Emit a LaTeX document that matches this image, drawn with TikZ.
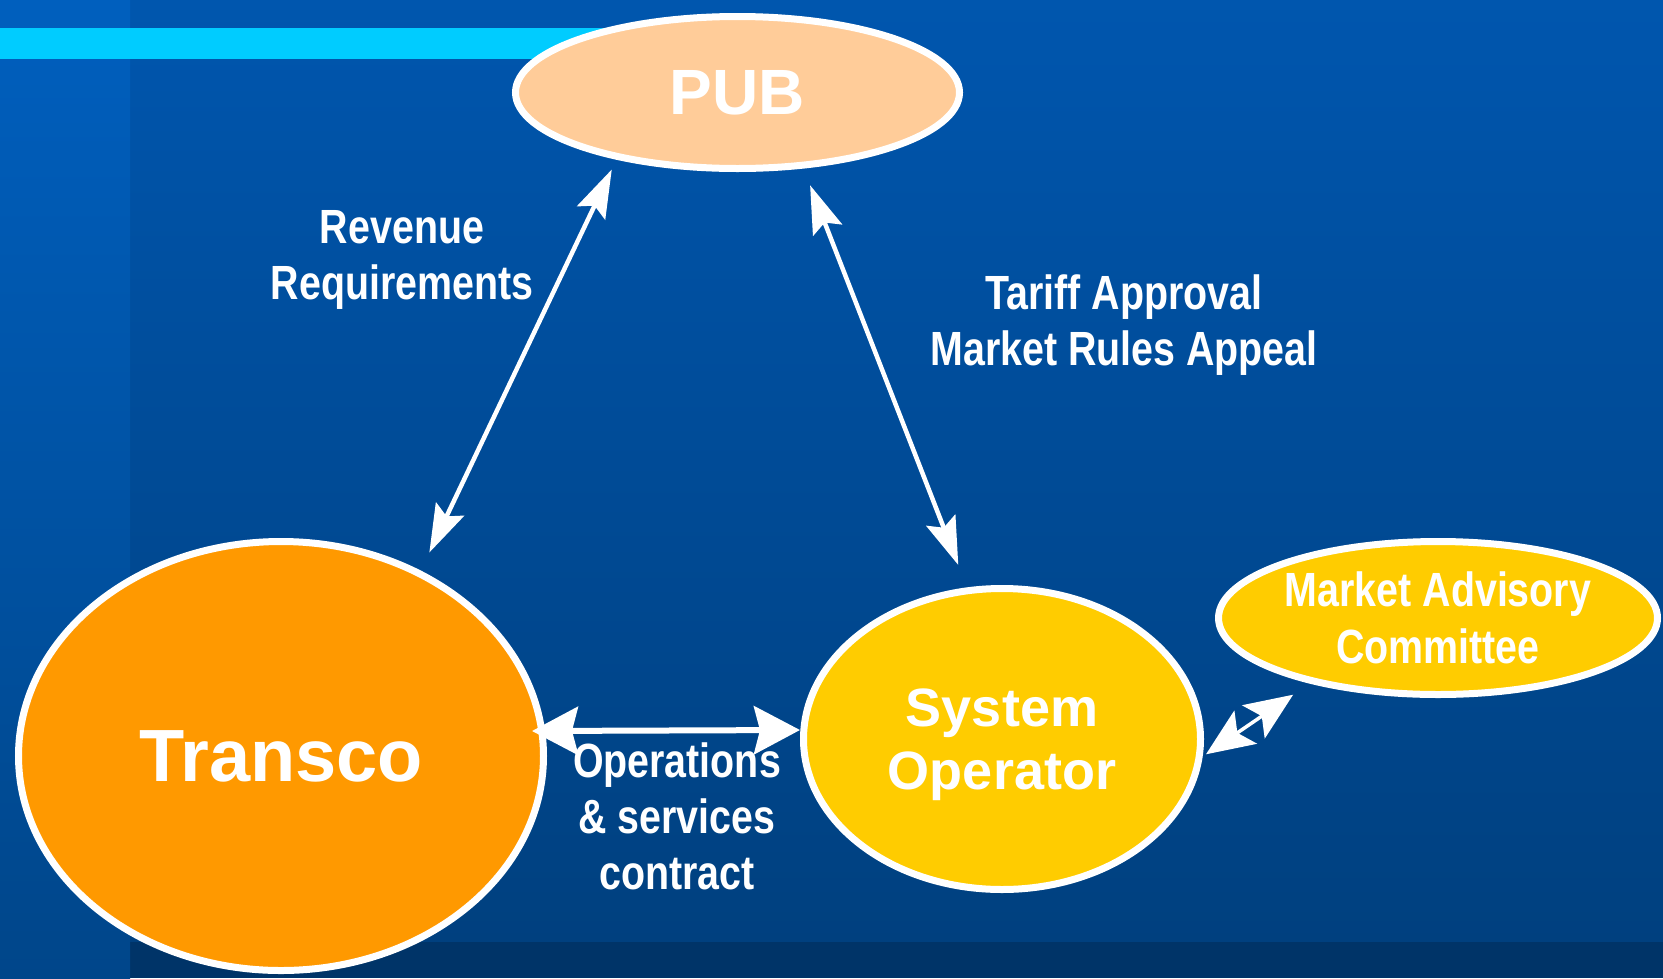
\documentclass[tikz,border=0pt]{standalone}
\usepackage{fontspec}
\setmainfont{Liberation Sans}
\newfontfamily\narrowfont[FakeStretch=0.82]{Liberation Sans}
\usetikzlibrary{shapes.geometric,arrows.meta}
\definecolor{bgtop}{HTML}{0056AE}
\definecolor{bgbottom}{HTML}{00407F}
\definecolor{bgband}{HTML}{003468}
\definecolor{stripetop}{HTML}{005FBE}
\definecolor{stripebottom}{HTML}{00468A}
\definecolor{cyanbar}{HTML}{00CCFF}
\definecolor{pubfill}{HTML}{FFCC99}
\definecolor{transcofill}{HTML}{FF9900}
\definecolor{sofill}{HTML}{FFCC00}

\begin{document}
\begin{tikzpicture}[
		x=1pt, y=-1pt,
		bubble/.style={ellipse, draw=white, line width=7pt, inner sep=0pt, align=center, text=white},
		linktext/.style={text=white, align=center, font=\narrowfont\bfseries\fontsize{48pt}{56pt}\selectfont},
		twoway/.style={{Stealth[length=48pt,width=31pt,inset=8pt]}-{Stealth[length=48pt,width=31pt,inset=8pt]}, white, line width=4.5pt},
		opsway/.style={{Stealth[length=46pt,width=48pt,inset=6pt]}-{Stealth[length=46pt,width=48pt,inset=6pt]}, white, line width=6pt},
		smallway/.style={{Stealth[length=48pt,width=40pt,inset=10pt]}-{Stealth[length=48pt,width=40pt,inset=10pt]}, white, line width=3.5pt}
		]
		
		% Background
		\useasboundingbox (0,0) rectangle (1663,978);
		\shade[top color=bgtop, bottom color=bgbottom] (130,0) rectangle (1663,942);
		\fill[bgband] (130,942) rectangle (1663,978);
		\shade[top color=stripetop, bottom color=stripebottom] (0,0) rectangle (130,978);
		\fill[cyanbar] (0,28) rectangle (620,59);
		
		% Bodies
		\node[bubble, fill=pubfill, minimum width=444pt, minimum height=152pt, font=\bfseries\fontsize{64pt}{70pt}\selectfont] (pub) at (737.5,92.5) {PUB};
		\node[bubble, fill=transcofill, minimum width=525pt, minimum height=429pt, font=\bfseries\fontsize{74pt}{80pt}\selectfont] (transco) at (281,756) {\raisebox{-3pt}{Transco}};
		\node[bubble, fill=sofill, minimum width=397pt, minimum height=301pt, font=\bfseries\fontsize{54pt}{63pt}\selectfont] (sysop) at (1002,739) {System\\\raisebox{0pt}[\height][0pt]{Operator}};
		\node[bubble, fill=sofill, minimum width=439pt, minimum height=153pt, font=\narrowfont\bfseries\fontsize{48pt}{57pt}\selectfont] (mac) at (1438,618) {Market Advisory\\Committee};
		
		% Links
		\draw[twoway, shorten <=20pt, shorten >=11pt] (transco.53) -- (pub.209);
		\draw[twoway, shorten <=24pt, shorten >=18pt] (sysop.103) -- (pub.311);
		\draw[opsway] ([shift={(-15pt,25pt)}]transco.east) -- ([yshift=9pt]sysop.west);
		\draw[smallway, shorten <=4pt, shorten >=20pt] (sysop.-5) -- (mac.207);
		
		% Link texts
		\node[linktext] (rev-text) at (402,260) {Revenue\\Requirements};
		\node[linktext] (tariff-text) at (1124,325) {Tariff Approval\\Market Rules Appeal};
		\node[linktext] (ops-text) at (677,816) {Operations\\\& services\\contract};
	\end{tikzpicture}
\end{document}
